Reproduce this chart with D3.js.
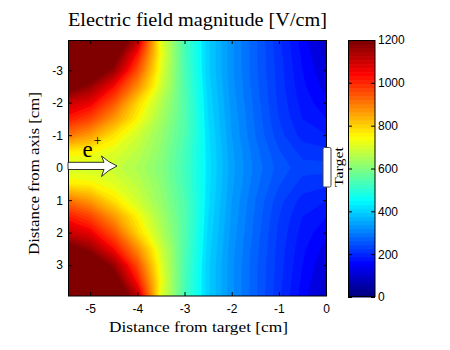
<!DOCTYPE html>
<html>
<head>
<meta charset="utf-8">
<script src="https://cdn.jsdelivr.net/npm/d3@7"></script>
<style>
  body { margin: 0; background: #fff; }
  .tick text { font-family: "Liberation Sans", Arial, sans-serif; font-size: 12px; fill: #000; }
  .tick line { stroke: #000; }
  .serif { font-family: "Liberation Serif", "Times New Roman", serif; fill: #000; }
</style>
</head>
<body>
<div id="plot"></div>
<script>
// grid columns (distance from target, cm) and rows (distance from axis, cm)
var xs = [-5.47, -5, -4.5, -4, -3.5, -3, -2.5, -2, -1.5, -1, -0.5, 0.02];
var ys = [-3.93, -3.5, -3, -2.5, -2, -1.5, -1, -0.5, 0, 0.5, 1, 1.5, 2, 2.5, 3, 3.5, 3.95];

// field magnitude [V/cm], one row per ys value
var field = [
  [1400, 1370, 1300, 1120, 720, 530, 405, 325, 265, 205, 150, 100],
  [1370, 1330, 1240, 1030, 735, 530, 405, 325, 265, 208, 155, 110],
  [1320, 1270, 1160, 960, 720, 535, 405, 325, 265, 210, 160, 120],
  [1230, 1160, 1040, 880, 700, 540, 410, 328, 268, 212, 165, 130],
  [1100, 1060, 950, 790, 665, 545, 415, 332, 272, 215, 172, 145],
  [1020, 970, 865, 750, 645, 545, 420, 336, 276, 220, 180, 160],
  [910, 860, 770, 700, 625, 540, 425, 340, 280, 228, 192, 180],
  [760, 750, 720, 675, 615, 530, 428, 345, 288, 242, 212, 205],
  [700, 700, 690, 655, 605, 525, 430, 348, 292, 252, 228, 228],
  [760, 750, 720, 675, 615, 530, 428, 345, 288, 242, 212, 205],
  [910, 860, 770, 700, 625, 540, 425, 340, 280, 228, 192, 180],
  [1020, 970, 865, 750, 645, 545, 420, 336, 276, 220, 180, 160],
  [1100, 1060, 950, 790, 665, 545, 415, 332, 272, 215, 172, 145],
  [1230, 1160, 1040, 880, 700, 540, 410, 328, 268, 212, 165, 130],
  [1320, 1270, 1160, 960, 720, 535, 405, 325, 265, 210, 160, 120],
  [1370, 1330, 1240, 1030, 735, 530, 405, 325, 265, 208, 155, 110],
  [1400, 1370, 1300, 1120, 720, 530, 405, 325, 265, 205, 150, 100]
];

var xTicks = [-5, -4, -3, -2, -1, 0];
var yTicks = [-3, -2, -1, 0, 1, 2, 3];
var cTicks = [0, 200, 400, 600, 800, 1000, 1200];
var cMax = 1200;

function clamp01(v) { return Math.max(0, Math.min(1, v)); }
function jet(t) {
  t = clamp01(t);
  var r = clamp01(1.5 - Math.abs(4 * t - 3));
  var g = clamp01(1.5 - Math.abs(4 * t - 2));
  var b = clamp01(1.5 - Math.abs(4 * t - 1));
  return d3.rgb(r * 255, g * 255, b * 255) + "";
}
// 64-entry colormap like matlab
function jetIndex(v) {
  var i = Math.min(63, Math.max(0, Math.floor(v / cMax * 64)));
  return jet(i / 63);
}

var W = 450, H = 350;
var svg = d3.select("#plot").append("svg").attr("width", W).attr("height", H);
svg.append("rect").attr("width", W).attr("height", H).attr("fill", "#fff");

var x = d3.scaleLinear().domain([xs[0], xs[xs.length - 1]]).range([68, 327]);
var y = d3.scaleLinear().domain([ys[0], ys[ys.length - 1]]).range([40, 296]);

// grid index -> data coordinate
var ix = d3.scaleLinear().domain(d3.range(xs.length)).range(xs);
var iy = d3.scaleLinear().domain(d3.range(ys.length)).range(ys);
var nx = xs.length, ny = ys.length;

var values = [];
field.forEach(function(row) { row.forEach(function(v) { values.push(v); }); });

var step = 20;
var levels = d3.range(0, 1400, step);
var contours = d3.contours().size([nx, ny]).thresholds(levels)(values);

var proj = d3.geoTransform({
  point: function(px, py) {
    var cx = Math.max(0, Math.min(nx - 1, px - 0.5));
    var cy = Math.max(0, Math.min(ny - 1, py - 0.5));
    this.stream.point(x(ix(cx)), y(iy(cy)));
  }
});
var path = d3.geoPath(proj);

svg.append("clipPath").attr("id", "clip").append("rect")
  .attr("x", 68).attr("y", 40).attr("width", 259).attr("height", 256);

svg.append("g").attr("clip-path", "url(#clip)")
  .selectAll("path").data(contours).enter().append("path")
  .attr("d", path)
  .attr("fill", function(d) { return jetIndex(d.value + step / 2); })
  .attr("stroke", function(d) { return jetIndex(d.value + step / 2); })
  .attr("stroke-width", 0.3);

// axes
var gx = svg.append("g").attr("transform", "translate(0,296)")
  .call(d3.axisBottom(x).tickValues(xTicks).tickSize(-4).tickPadding(8).tickFormat(function(d) { return String(d); }));
var gxt = svg.append("g").attr("transform", "translate(0,40)")
  .call(d3.axisTop(x).tickValues(xTicks).tickSize(-4).tickFormat(""));
var gy = svg.append("g").attr("transform", "translate(68,0)")
  .call(d3.axisLeft(y).tickValues(yTicks).tickSize(-4).tickPadding(5).tickFormat(function(d) { return String(d); }));
var gyr = svg.append("g").attr("transform", "translate(327,0)")
  .call(d3.axisRight(y).tickValues(yTicks).tickSize(-4).tickFormat(""));
[gx, gxt, gy, gyr].forEach(function(g) { g.select(".domain").remove(); });

svg.append("rect").attr("x", 68.5).attr("y", 40.5).attr("width", 258).attr("height", 255.5)
  .attr("fill", "none").attr("stroke", "#000");

// beam arrow
svg.append("path")
  .attr("d", "M68,162.3 L104,162.3 L101.5,156 Q108,162 117,166 Q108,170 101.5,176.5 L104,169.5 L68,169.5 Z")
  .attr("fill", "#fff").attr("stroke", "#000").attr("stroke-width", 0.8);
svg.append("text").attr("class", "serif").attr("x", 82.5).attr("y", 157)
  .style("font-size", "23px").text("e");
svg.append("text").attr("class", "serif").attr("x", 93.5).attr("y", 145)
  .style("font-size", "14px").text("+");

// target
svg.append("rect").attr("x", 323).attr("y", 147.5).attr("width", 8).attr("height", 39.5)
  .attr("rx", 1.5).attr("fill", "#fff").attr("stroke", "#444").attr("stroke-width", 1);
svg.append("text").attr("class", "serif")
  .attr("transform", "translate(343,167) rotate(-90)")
  .attr("text-anchor", "middle").style("font-size", "12px")
  .attr("textLength", 40).attr("lengthAdjust", "spacingAndGlyphs").text("Target");

// colorbar
var c = d3.scaleLinear().domain([0, cMax]).range([297, 40]);
var bands = d3.range(64);
svg.append("g").selectAll("rect").data(bands).enter().append("rect")
  .attr("x", 348).attr("width", 27)
  .attr("y", function(i) { return c((i + 1) * cMax / 64); })
  .attr("height", function(i) { return c(i * cMax / 64) - c((i + 1) * cMax / 64) + 0.5; })
  .attr("fill", function(i) { return jet(i / 63); });
var gc = svg.append("g").attr("transform", "translate(375,0)")
  .call(d3.axisRight(c).tickValues(cTicks).tickSize(-4).tickPadding(3).tickFormat(function(d) { return String(d); }));
var gcl = svg.append("g").attr("transform", "translate(348,0)")
  .call(d3.axisLeft(c).tickValues(cTicks).tickSize(-4).tickFormat(""));
gc.select(".domain").remove();
gcl.select(".domain").remove();
svg.append("rect").attr("x", 348.5).attr("y", 40.5).attr("width", 26.5).attr("height", 256)
  .attr("fill", "none").attr("stroke", "#000");

// titles
svg.append("text").attr("class", "serif").attr("x", 197.5).attr("y", 26)
  .attr("text-anchor", "middle").style("font-size", "18px")
  .attr("textLength", 259).attr("lengthAdjust", "spacingAndGlyphs")
  .text("Electric field magnitude [V/cm]");
svg.append("text").attr("class", "serif").attr("x", 198.5).attr("y", 332)
  .attr("text-anchor", "middle").style("font-size", "15px")
  .attr("textLength", 179).attr("lengthAdjust", "spacingAndGlyphs")
  .text("Distance from target [cm]");
svg.append("text").attr("class", "serif")
  .attr("transform", "translate(39,173.5) rotate(-90)")
  .attr("text-anchor", "middle").style("font-size", "15px")
  .attr("textLength", 163).attr("lengthAdjust", "spacingAndGlyphs")
  .text("Distance from axis [cm]");
</script>
</body>
</html>
